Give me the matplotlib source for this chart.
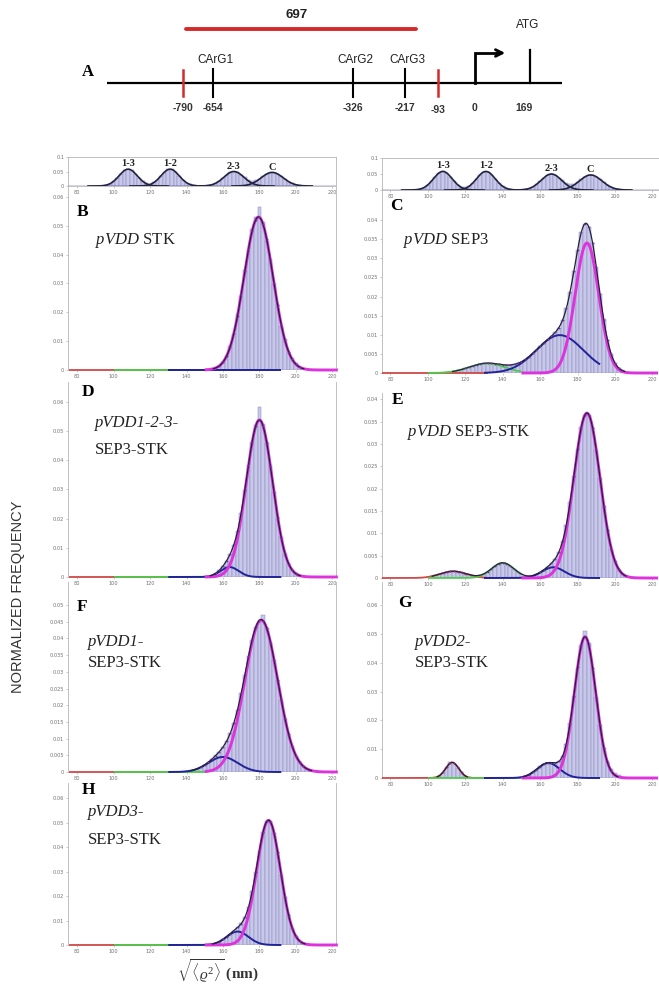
import numpy as np
import matplotlib
matplotlib.use('Agg')
import matplotlib.pyplot as plt
from matplotlib.ticker import FormatStrFormatter

plt.rcParams['mathtext.fontset'] = 'custom'
plt.rcParams['mathtext.rm'] = 'Liberation Serif'
plt.rcParams['mathtext.it'] = 'Liberation Serif:italic'
plt.rcParams['mathtext.bf'] = 'Liberation Serif:bold'

# 
# Data
# 
# promoter map (panel A)
site_labels = ['-790', '-654', '-326', '-217', '-93', '0', '169']
site_kind = ['cut', 'CArG1', 'CArG2', 'CArG3', 'cut', 'tss', 'ATG']
fragment_label = '697'

x_ticks = [80, 100, 120, 140, 160, 180, 200, 220]
bin_width = 2.0

# reference loops (small top panels)
ref_names = ['1-3', '1-2', '2-3', 'C']
ref_center = [108, 131, 166, 187]
ref_sigma = [5.0, 5.0, 5.5, 6.0]
ref_height = [0.058, 0.058, 0.050, 0.047]
ref_start = 94
ref_bars = [0.0011, 0.0032, 0.0078, 0.0161, 0.0283, 0.0420, 0.0535, 0.0580, 0.0535, 0.0420,
            0.0283, 0.0167, 0.0098, 0.0084, 0.0126, 0.0221, 0.0352, 0.0484, 0.0569, 0.0569,
            0.0484, 0.0352, 0.0218, 0.0115, 0.0052, 0.0020, 0.0007, 0.0004, 0.0007, 0.0020,
            0.0046, 0.0096, 0.0174, 0.0276, 0.0384, 0.0468, 0.0500, 0.0468, 0.0384, 0.0297,
            0.0219, 0.0183, 0.0199, 0.0258, 0.0340, 0.0415, 0.0463, 0.0463, 0.0415, 0.0332,
            0.0238, 0.0153, 0.0087, 0.0045, 0.0021, 0.0009, 0.0003]

# fitted components, order: red, green, blue, magenta
B_center = [110, 120, 160, 179.5]
B_sigma = [5, 5, 5, 8.0]
B_height = [0, 0, 0, 0.053]
B_start = 154
B_bars = [0.0003, 0.0006, 0.0013, 0.0029, 0.0047, 0.0084, 0.0125, 0.0193, 0.0258, 0.0345,
          0.0415, 0.0488, 0.0530, 0.0565, 0.0512, 0.0448, 0.0385, 0.0297, 0.0228, 0.0152,
          0.0107, 0.0060, 0.0040, 0.0024, 0.0012, 0.0005]

C_center = [110, 131.5, 170.5, 185]
C_sigma = [5, 9.5, 12.5, 6.3]
C_height = [0, 0.0025, 0.0099, 0.034]
C_start = 110
C_bars = [0.0002, 0.0003, 0.0005, 0.0007, 0.0009, 0.0012, 0.0015, 0.0018, 0.0021, 0.0023,
          0.0025, 0.0026, 0.0025, 0.0024, 0.0023, 0.0022, 0.0021, 0.0021, 0.0023, 0.0025,
          0.0030, 0.0035, 0.0042, 0.0050, 0.0060, 0.0070, 0.0079, 0.0087, 0.0097, 0.0106,
          0.0119, 0.0138, 0.0169, 0.0213, 0.0266, 0.0322, 0.0369, 0.0391, 0.0382, 0.0341,
          0.0277, 0.0206, 0.0140, 0.0086, 0.0049, 0.0026, 0.0013, 0.0007, 0.0003]

D_center = [110, 120, 163.6, 180]
D_sigma = [5, 5, 5, 7.2]
D_height = [0, 0, 0.0034, 0.0537]
D_start = 152
D_bars = [0.0001, 0.0003, 0.0013, 0.0023, 0.0037, 0.0056, 0.0079, 0.0111, 0.0157, 0.0220,
          0.0298, 0.0384, 0.0462, 0.0520, 0.0580, 0.0522, 0.0458, 0.0382, 0.0292, 0.0203,
          0.0136, 0.0080, 0.0046, 0.0025, 0.0012, 0.0005, 0.0002]

E_center = [113.6, 140, 167, 185]
E_sigma = [7, 6, 6, 7]
E_height = [0.0015, 0.0034, 0.0024, 0.0369]
E_start = 100
E_bars = [0.0002, 0.0004, 0.0006, 0.0008, 0.0011, 0.0013, 0.0015, 0.0015, 0.0014, 0.0012,
          0.0010, 0.0007, 0.0005, 0.0005, 0.0006, 0.0009, 0.0014, 0.0021, 0.0027, 0.0032,
          0.0034, 0.0032, 0.0027, 0.0021, 0.0014, 0.0009, 0.0005, 0.0005, 0.0005, 0.0008,
          0.0012, 0.0019, 0.0025, 0.0033, 0.0043, 0.0058, 0.0083, 0.0119, 0.0169, 0.0229,
          0.0288, 0.0337, 0.0365, 0.0365, 0.0337, 0.0286, 0.0224, 0.0161, 0.0107, 0.0066,
          0.0037, 0.0019, 0.0009, 0.0004]

F_center = [110, 120, 160, 181]
F_sigma = [5, 5, 8, 9]
F_height = [0, 0, 0.0045, 0.0455]
F_start = 140
F_bars = [0.0002, 0.0004, 0.0006, 0.0010, 0.0015, 0.0022, 0.0030, 0.0039, 0.0050, 0.0061,
          0.0075, 0.0093, 0.0117, 0.0147, 0.0187, 0.0237, 0.0291, 0.0346, 0.0396, 0.0434,
          0.0454, 0.0470, 0.0430, 0.0390, 0.0336, 0.0276, 0.0216, 0.0160, 0.0113, 0.0077,
          0.0049, 0.0030, 0.0017, 0.0010, 0.0005, 0.0002]

G_center = [113, 120, 164.4, 184]
G_sigma = [3.5, 5, 6, 5.7]
G_height = [0.0054, 0, 0.0052, 0.049]
G_start = 104
G_bars = [0.0002, 0.0007, 0.0019, 0.0039, 0.0054, 0.0050, 0.0036, 0.0019, 0.0007, 0.0002,
          0, 0, 0, 0, 0, 0, 0, 0, 0, 0, 0, 0, 0,
          0.0003, 0.0006, 0.0012, 0.0020, 0.0029, 0.0040, 0.0048, 0.0053, 0.0053, 0.0053,
          0.0058, 0.0077, 0.0119, 0.0191, 0.0286, 0.0383, 0.0461, 0.0510, 0.0470, 0.0383,
          0.0282, 0.0183, 0.0105, 0.0060, 0.0030, 0.0016, 0.0010, 0.0005]

H_center = [110, 120, 168, 185]
H_sigma = [5, 5, 6, 6.5]
H_height = [0, 0, 0.0055, 0.051]
H_start = 154
H_bars = [0.0004, 0.0007, 0.0014, 0.0023, 0.0034, 0.0047, 0.0059, 0.0072, 0.0088, 0.0113,
          0.0155, 0.0219, 0.0300, 0.0386, 0.0462, 0.0506, 0.0508, 0.0458, 0.0379, 0.0286,
          0.0196, 0.0122, 0.0069, 0.0036, 0.0017, 0.0007, 0.0003, 0.0001]


# 
# Styles
# 
bar_fill = '#c8c8e8'
bar_edge = '#8a8ac0'
comp_colors = ['#d04848', '#4ccc4c', '#22229a', '#dd33dd']
comp_lw = [1.3, 1.3, 1.4, 2.1]
comp_range = [(75.5, 132), (100, 150), (130, 192), (150, 223)]
total_color = '#24203a'
dot_color = '#6a3a8a'
spine_color = '#b5b5b5'
tick_text = '#707070'

W, H = 659.0, 986.0
fig = plt.figure(figsize=(6.59, 9.86), dpi=100)


def px_axes(x0, x1, y0, y1):
    return fig.add_axes([x0 / W, 1 - y1 / H, (x1 - x0) / W, (y1 - y0) / H])


def gauss(x, c, s, h):
    return h * np.exp(-(x - c) ** 2 / (2.0 * s * s))


def style_axes(ax, xlim, ylim, yticks, box=False):
    ax.set_xlim(*xlim)
    ax.set_ylim(*ylim)
    ax.set_xticks(x_ticks)
    ax.set_yticks(yticks)
    ax.yaxis.set_major_formatter(FormatStrFormatter('%g'))
    ax.tick_params(labelsize=3.6, labelcolor=tick_text, color='#a0a0a0', length=1.5, width=0.4, pad=1.2)
    for side in ['left', 'right', 'top', 'bottom']:
        ax.spines[side].set_color(spine_color)
        ax.spines[side].set_linewidth(0.6)
    if not box:
        ax.spines['top'].set_visible(False)
        ax.spines['bottom'].set_visible(False)
    ax.patch.set_alpha(0)


def draw_panel(ax, start, bars, cen, sig, hei):
    xb = start + bin_width * np.arange(len(bars))
    ax.bar(xb, bars, width=bin_width, color=bar_fill, edgecolor=bar_edge, linewidth=0.35, zorder=2)
    for k in range(4):
        lo, hi = comp_range[k]
        xg = np.linspace(lo, hi, 400)
        ax.plot(xg, gauss(xg, cen[k], sig[k], hei[k]), color=comp_colors[k], lw=comp_lw[k],
                zorder=3 + 0.3 * k, clip_on=False, solid_capstyle='butt')
    xg = np.linspace(90, 215, 800)
    tot = sum(gauss(xg, cen[k], sig[k], hei[k]) for k in range(4))
    tot = np.where(tot > 0.0004, tot, np.nan)
    ax.plot(xg, tot, color=total_color, lw=0.9, zorder=5)
    tb = sum(gauss(xb, cen[k], sig[k], hei[k]) for k in range(4))
    m = tb > 0.001
    ax.plot(xb[m], tb[m], ls='none', marker='o', ms=1.3, mfc=dot_color, mec='none', zorder=6)


def draw_reference(ax):
    xb = ref_start + bin_width * np.arange(len(ref_bars))
    ax.bar(xb, ref_bars, width=bin_width, color=bar_fill, edgecolor=bar_edge, linewidth=0.35, zorder=2)
    ax.axhline(0, color='#2a2a8a', lw=1.0, zorder=3)
    for name, c, s, h in zip(ref_names, ref_center, ref_sigma, ref_height):
        xg = np.linspace(c - 22, c + 22, 300)
        ax.plot(xg, gauss(xg, c, s, h), color='#23233f', lw=1.2, zorder=4)
        ax.text(c, h + 0.018, name, ha='center', va='center', fontsize=7.5,
                family='Liberation Serif', weight='bold', color='#222222', zorder=5)


# 
# Panel A: promoter map
# 
ax0 = fig.add_axes([0, 1 - 135 / H, 1, 135 / H])
ax0.set_xlim(0, W)
ax0.set_ylim(135, 0)
ax0.axis('off')
site_px = [183, 213, 353, 405, 438, 475, 530]
red = '#d42a2a'
ax0.plot([107, 562], [83, 83], color='black', lw=1.6, solid_capstyle='butt')
ax0.plot([186, 416], [29, 29], color=red, lw=2.8, solid_capstyle='round')
ax0.text(297, 15, fragment_label, ha='center', va='center', fontsize=9.5, weight='bold',
         family='Liberation Sans', color='#222222')
for lab, kind, xp in zip(site_labels, site_kind, site_px):
    if kind == 'cut':
        ax0.plot([xp, xp], [70, 96], color=red, lw=1.8)
    elif kind.startswith('CArG'):
        ax0.plot([xp, xp], [69, 97], color='black', lw=1.5)
        ax0.text(xp + 2, 60, kind, ha='center', va='center', fontsize=8.5,
                 family='Liberation Sans', color='#222222')
    elif kind == 'tss':
        ax0.plot([xp, xp, 497], [83, 53, 53], color='black', lw=2.0, solid_joinstyle='miter')
        ax0.annotate('', xy=(508, 53), xytext=(494, 53),
                     arrowprops=dict(arrowstyle='->', lw=2.0, color='black', mutation_scale=12))
    elif kind == 'ATG':
        ax0.plot([xp, xp], [50, 83], color='black', lw=1.6)
        ax0.text(xp - 2, 25, 'ATG', ha='center', va='center', fontsize=8.5,
                 family='Liberation Sans', color='#222222')
    dy = 110 if lab == '-93' else 108
    ax0.text(xp if lab != '169' else xp - 6, dy, lab, ha='center', va='center', fontsize=7.5,
             family='Liberation Sans', weight='bold', color='#333333')
ax0.text(88, 72, 'A', ha='center', va='center', fontsize=12, family='Liberation Serif', weight='bold')


# 
# Reference panels
# 
left_x = (68, 336, (75, 222))
right_x = (382, 659, (75.5, 223.5))

for (x0, x1, xl), (y0, y1) in [(left_x, (157, 186)), (right_x, (158, 190))]:
    ax = px_axes(x0, x1, y0, y1)
    draw_reference(ax)
    style_axes(ax, xl, (0, 0.1), [0, 0.05, 0.1], box=True)


# 
# Main panels
# 
panels = [
    (left_x, 187, 370, 0.0634, 0.01, 0.06, B_start, B_bars, B_center, B_sigma, B_height),
    (right_x, 191, 373, 0.0476, 0.005, 0.04, C_start, C_bars, C_center, C_sigma, C_height),
    (left_x, 382, 577, 0.0667, 0.01, 0.06, D_start, D_bars, D_center, D_sigma, D_height),
    (right_x, 393, 578, 0.0414, 0.005, 0.04, E_start, E_bars, E_center, E_sigma, E_height),
    (left_x, 582, 772, 0.0569, 0.005, 0.05, F_start, F_bars, F_center, F_sigma, F_height),
    (right_x, 582, 778, 0.0680, 0.01, 0.06, G_start, G_bars, G_center, G_sigma, G_height),
    (left_x, 783, 945, 0.0663, 0.01, 0.06, H_start, H_bars, H_center, H_sigma, H_height),
]
for (x0, x1, xl), y0, y1, ytop, ystep, ymaxt, start, bars, cen, sig, hei in panels:
    ax = px_axes(x0, x1, y0, y1)
    draw_panel(ax, start, bars, cen, sig, hei)
    style_axes(ax, xl, (0, ytop), np.arange(0, ymaxt + ystep / 2, ystep))


# 
# Panel labels
# 
serif = 'Liberation Serif'
letters = [('B', 83, 212), ('C', 396, 206), ('D', 88, 392), ('E', 398, 400),
           ('F', 82, 607), ('G', 405, 603), ('H', 88, 790)]
for lab, x, y in letters:
    fig.text(x / W, 1 - y / H, lab, ha='center', va='center', fontsize=12.5, family=serif, weight='bold')

# (text, x, y, italic line)
names = [(r'$\mathit{pVDD}$ STK', 95, 240, False), (r'$\mathit{pVDD}$ SEP3', 403, 240, False),
         ('pVDD1-2-3-', 95, 423, True), ('SEP3-STK', 95, 450, False),
         (r'$\mathit{pVDD}$ SEP3-STK', 407, 433, False),
         ('pVDD1-', 88, 642, True), ('SEP3-STK', 88, 663, False),
         ('pVDD2-', 415, 642, True), ('SEP3-STK', 415, 663, False),
         ('pVDD3-', 88, 812, True), ('SEP3-STK', 88, 840, False)]
for txt, x, y, it in names:
    fig.text(x / W, 1 - y / H, txt, ha='left', va='center', fontsize=12, family=serif,
             style='italic' if it else 'normal', color='#222222')

fig.text(18 / W, 1 - 597 / H, 'NORMALIZED FREQUENCY', rotation=90, ha='center', va='center',
         fontsize=10.5, family='Liberation Sans', color='#333333')
fig.text(218 / W, 1 - 971 / H, r'$\sqrt{\langle\varrho^2\rangle}$ (nm)', ha='center', va='center',
         fontsize=11, family=serif, weight='bold', color='#333333')

fig.savefig('out.png', dpi=100)
